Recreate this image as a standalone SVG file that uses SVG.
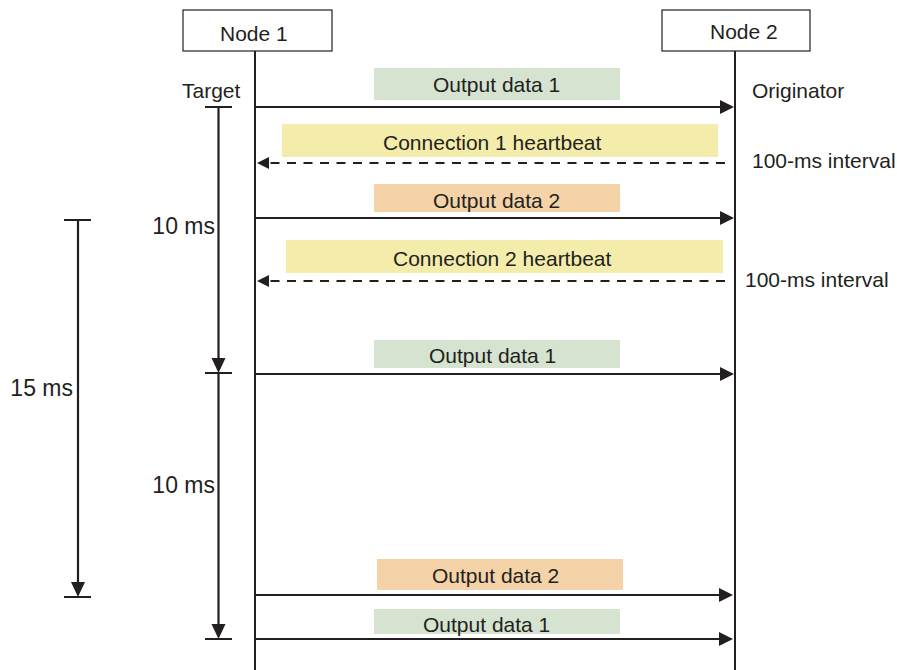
<svg xmlns="http://www.w3.org/2000/svg" width="897" height="670" viewBox="0 0 897 670">
<defs>
<style>
text{font-family:"Liberation Sans",Arial,sans-serif;font-size:21px;fill:#231f20}
text.t{font-size:23px;text-anchor:end}
.box{fill:#fff;stroke:#231f20;stroke-width:1.2}
.life{stroke:#231f20;stroke-width:2;fill:none}
.msg{stroke:#231f20;stroke-width:2.2;fill:none}
.dash{stroke:#231f20;stroke-width:2.2;fill:none;stroke-dasharray:9 7.5}
.tick{stroke:#231f20;stroke-width:2;fill:none}
.g{fill:#d5e3d0}.y{fill:#f4ecaa}.o{fill:#f4d3a9}
</style>
<marker id="ar" markerUnits="userSpaceOnUse" markerWidth="14" markerHeight="14" refX="8" refY="7" orient="auto" overflow="visible">
<path d="M0,0 L14,7 L0,14 z" fill="#231f20"/>
</marker>
<marker id="al" markerUnits="userSpaceOnUse" markerWidth="12" markerHeight="12" refX="6" refY="6" orient="auto" overflow="visible">
<path d="M0,0 L12,6 L0,12 z" fill="#231f20"/>
</marker>
<marker id="ad" markerUnits="userSpaceOnUse" markerWidth="15" markerHeight="14" refX="8" refY="7" orient="auto" overflow="visible">
<path d="M0,0 L15,7 L0,14 z" fill="#231f20"/>
</marker>
</defs>
<rect width="897" height="670" fill="#fff"/>
<g id="node1">
<rect class="box" x="183" y="10" width="149" height="41"/>
<text x="220" y="41">Node 1</text>
<line class="life" x1="255" y1="51" x2="255" y2="670"/>
<text x="182" y="98">Target</text>
</g>
<g id="node2">
<rect class="box" x="662" y="10" width="148" height="41"/>
<text x="710" y="39">Node 2</text>
<line class="life" x1="735" y1="51" x2="735" y2="670"/>
<text x="752" y="98">Originator</text>
</g>
<g id="labels">
<rect class="g" x="374" y="68" width="246" height="32"/>
<text x="433" y="92">Output data 1</text>
<rect class="y" x="282" y="124" width="436" height="33"/>
<text x="383" y="150">Connection 1 heartbeat</text>
<text x="752" y="168">100-ms interval</text>
<rect class="o" x="374" y="184" width="246" height="28"/>
<text x="433" y="208">Output data 2</text>
<rect class="y" x="286" y="240" width="437" height="33"/>
<text x="393" y="266">Connection 2 heartbeat</text>
<text x="745" y="287">100-ms interval</text>
<rect class="g" x="374" y="340" width="246" height="28"/>
<text x="429" y="363">Output data 1</text>
<rect class="o" x="377" y="559" width="246" height="31"/>
<text x="432" y="583">Output data 2</text>
<rect class="g" x="374" y="609" width="246" height="25"/>
<text x="423" y="632">Output data 1</text>
</g>
<g id="connectors">
<line class="msg" x1="256" y1="107" x2="728" y2="107" marker-end="url(#ar)"/>
<line class="dash" x1="725" y1="163" x2="263" y2="163" marker-end="url(#al)"/>
<line class="msg" x1="256" y1="218" x2="728" y2="218" marker-end="url(#ar)"/>
<line class="dash" x1="725" y1="281" x2="263" y2="281" marker-end="url(#al)"/>
<line class="msg" x1="256" y1="374" x2="728" y2="374" marker-end="url(#ar)"/>
<line class="msg" x1="256" y1="595" x2="727" y2="595" marker-end="url(#ar)"/>
<line class="msg" x1="256" y1="639" x2="727" y2="639" marker-end="url(#ar)"/>
</g>
<g id="timing">
<line class="tick" x1="205" y1="107" x2="232" y2="107"/>
<line class="msg" x1="218.5" y1="107" x2="218.5" y2="366" marker-end="url(#ad)"/>
<line class="tick" x1="205" y1="373" x2="232" y2="373"/>
<line class="msg" x1="218.5" y1="373" x2="218.5" y2="632" marker-end="url(#ad)"/>
<line class="tick" x1="205" y1="639" x2="232" y2="639"/>
<text class="t" x="215" y="234">10 ms</text>
<text class="t" x="215" y="493">10 ms</text>
<line class="tick" x1="64" y1="220" x2="91" y2="220"/>
<line class="msg" x1="78" y1="220" x2="78" y2="590" marker-end="url(#ad)"/>
<line class="tick" x1="64" y1="597" x2="91" y2="597"/>
<text class="t" x="73" y="396">15 ms</text>
</g>
</svg>
